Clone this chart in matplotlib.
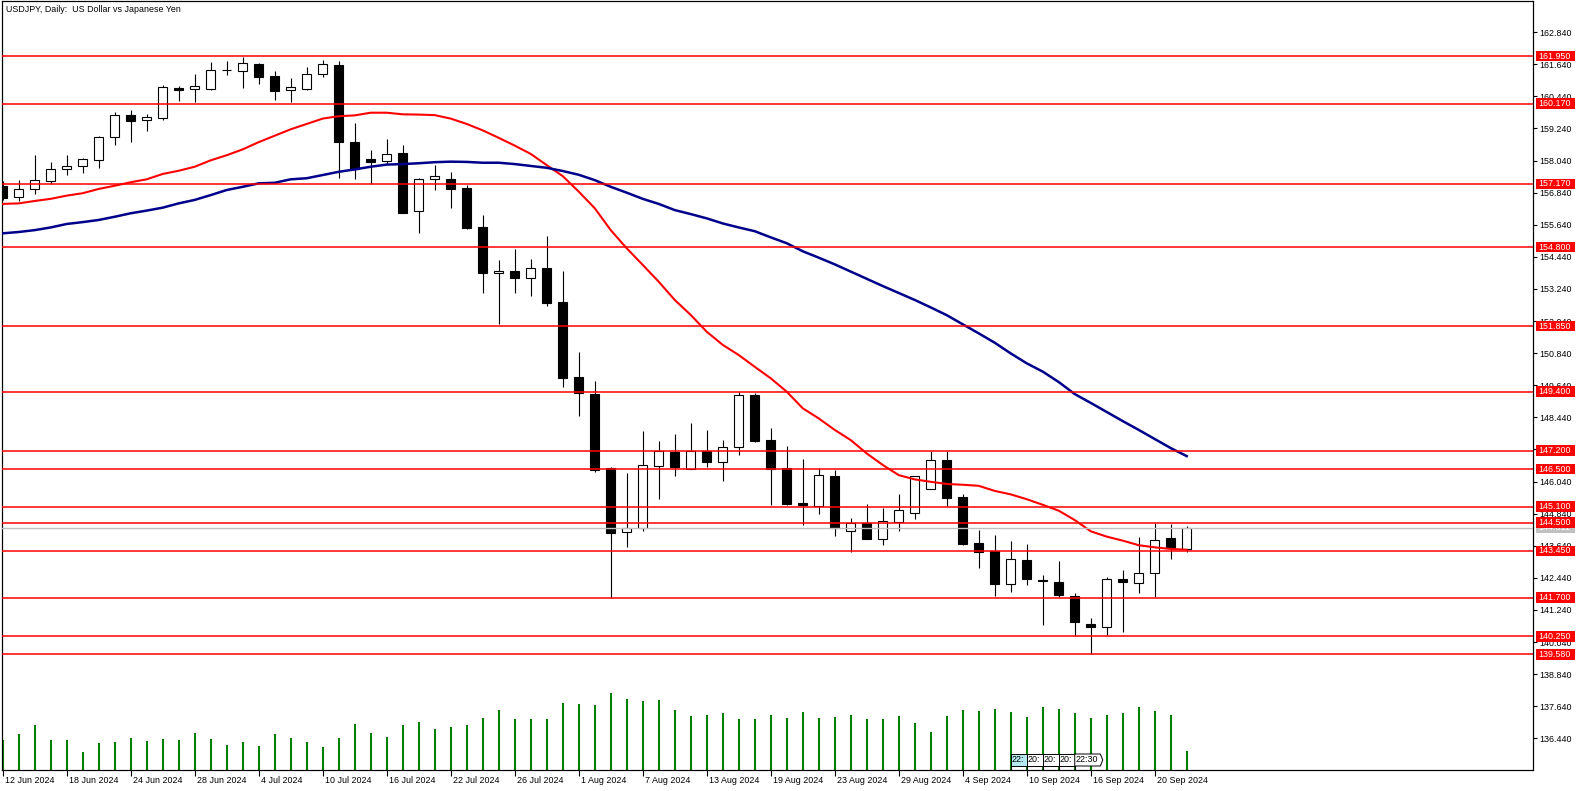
import numpy as np
import pandas as pd
import matplotlib
matplotlib.use("Agg")
import matplotlib.pyplot as plt
from matplotlib.patches import Rectangle, Polygon
from matplotlib.transforms import ScaledTranslation

# USDJPY daily candles, 12 Jun 2024 - 24 Sep 2024
dates = pd.bdate_range("2024-06-12", "2024-09-24")

opens = [157.09, 156.67, 156.97, 157.27, 157.71, 157.83, 158.05, 158.91, 159.73, 159.55,
         159.64, 160.74, 160.71, 160.71, 161.41, 161.38, 161.65, 161.20, 160.67, 160.73,
         161.27, 161.61, 158.73, 158.10, 158.01, 158.31, 156.14, 157.34, 157.34, 157.02,
         155.54, 153.82, 153.91, 153.64, 154.02, 152.74, 149.94, 149.31, 146.53, 144.14,
         144.29, 146.63, 147.13, 146.52, 147.17, 146.78, 147.32, 149.26, 147.59, 146.53,
         145.24, 145.14, 146.25, 144.18, 144.50, 143.90, 144.54, 144.87, 145.77, 146.85,
         145.46, 143.74, 143.44, 142.22, 143.09, 142.36, 142.28, 141.76, 140.70, 140.59,
         142.40, 142.23, 142.61, 143.92, 143.51]
highs = [157.28, 157.31, 158.25, 157.99, 158.25, 158.15, 158.96, 159.86, 159.93, 159.78,
         160.87, 160.83, 161.29, 161.73, 161.76, 161.92, 161.68, 161.39, 161.13, 161.54,
         161.80, 161.76, 159.45, 158.44, 158.85, 158.62, 157.38, 157.87, 157.60, 157.13,
         155.99, 154.32, 154.73, 154.36, 155.21, 153.90, 150.88, 149.81, 146.57, 146.37,
         147.93, 147.56, 147.82, 148.23, 147.97, 147.59, 149.39, 149.34, 148.04, 147.37,
         146.88, 146.55, 146.47, 144.68, 145.20, 145.05, 145.57, 146.26, 147.19, 147.19,
         145.57, 144.23, 144.04, 143.82, 143.70, 142.53, 143.07, 141.88, 140.95, 142.46,
         142.73, 143.97, 144.50, 144.45, 144.38]
lows = [156.57, 156.54, 156.79, 157.18, 157.51, 157.59, 157.77, 158.63, 158.74, 159.16,
        159.56, 160.28, 160.24, 160.69, 161.25, 160.77, 160.91, 160.31, 160.23, 160.68,
        161.18, 157.40, 157.36, 157.15, 157.91, 156.07, 155.34, 156.94, 156.28, 155.50,
        153.10, 151.94, 153.10, 152.99, 152.61, 149.58, 148.49, 146.41, 141.70, 143.61,
        144.20, 145.40, 146.26, 146.50, 146.59, 146.07, 147.03, 147.53, 145.16, 145.16,
        144.43, 144.84, 144.01, 143.42, 143.88, 143.68, 144.20, 144.65, 145.75, 145.13,
        143.67, 142.82, 141.77, 141.92, 142.18, 140.69, 141.73, 140.26, 139.59, 140.31,
        140.43, 141.88, 141.72, 143.15, 143.39]
closes = [156.65, 156.97, 157.30, 157.71, 157.84, 158.10, 158.91, 159.73, 159.53, 159.66,
          160.78, 160.69, 160.82, 161.42, 161.43, 161.68, 161.18, 160.65, 160.78, 161.28,
          161.64, 158.75, 157.71, 158.00, 158.27, 156.09, 157.34, 157.45, 156.99, 155.53,
          153.85, 153.91, 153.66, 154.02, 152.73, 149.92, 149.34, 146.49, 144.12, 144.29,
          146.66, 147.17, 146.59, 147.17, 146.78, 147.32, 149.26, 147.57, 146.51, 145.20,
          145.17, 146.27, 144.31, 144.50, 143.90, 144.55, 144.96, 146.24, 146.85, 145.43,
          143.71, 143.42, 142.22, 143.13, 142.41, 142.34, 141.81, 140.80, 140.59, 142.38,
          142.27, 142.61, 143.84, 143.57, 144.311]

# tick volume (relative units)
volumes = [30, 36, 45, 30, 30, 18, 27, 28, 32, 29,
           31, 30, 37, 31, 25, 28, 24, 36, 32, 28,
           23, 32, 46, 37, 33, 45, 48, 41, 43, 45,
           52, 60, 51, 51, 51, 67, 66, 65, 77, 71,
           69, 70, 60, 54, 55, 57, 51, 51, 55, 52,
           58, 52, 53, 55, 51, 51, 54, 47, 38, 54,
           60, 59, 61, 58, 53, 63, 61, 57, 52, 55,
           57, 63, 59, 55, 19]

# moving averages as drawn on the chart
red_ma = [156.42, 156.44, 156.53, 156.61, 156.73, 156.82, 156.98, 157.10, 157.23, 157.34,
          157.54, 157.66, 157.81, 158.05, 158.24, 158.46, 158.73, 158.97, 159.21, 159.41,
          159.61, 159.70, 159.73, 159.83, 159.83, 159.77, 159.76, 159.74, 159.61, 159.41,
          159.17, 158.89, 158.60, 158.29, 157.87, 157.46, 156.88, 156.26, 155.44, 154.76,
          154.14, 153.51, 152.83, 152.27, 151.64, 151.15, 150.77, 150.33, 149.90, 149.40,
          148.78, 148.40, 147.97, 147.59, 147.09, 146.66, 146.28, 146.12, 146.03, 145.95,
          145.92, 145.88, 145.69, 145.56, 145.38, 145.17, 144.95, 144.60, 144.18, 143.98,
          143.83, 143.66, 143.58, 143.52, 143.49]
blue_ma = [155.32, 155.37, 155.44, 155.54, 155.67, 155.74, 155.82, 155.94, 156.07, 156.17,
           156.28, 156.44, 156.57, 156.75, 156.94, 157.06, 157.19, 157.21, 157.34, 157.38,
           157.50, 157.62, 157.71, 157.81, 157.89, 157.91, 157.94, 157.98, 158.00, 157.99,
           157.96, 157.96, 157.91, 157.84, 157.77, 157.65, 157.51, 157.31, 157.06, 156.84,
           156.61, 156.42, 156.19, 156.04, 155.88, 155.69, 155.54, 155.40, 155.17, 154.95,
           154.65, 154.41, 154.16, 153.89, 153.62, 153.35, 153.09, 152.83, 152.55, 152.26,
           151.92, 151.58, 151.23, 150.83, 150.46, 150.15, 149.76, 149.31, 148.98, 148.64,
           148.30, 147.97, 147.63, 147.29, 146.99]

# horizontal support / resistance levels
levels = [161.95, 160.17, 157.17, 154.80, 151.85, 149.40, 147.20,
          146.50, 145.10, 144.50, 143.45, 141.70, 140.25, 139.58]
bid = 144.311

price_ticks = [136.44, 137.64, 138.84, 140.04, 141.24, 142.44, 143.64, 144.84,
               146.04, 147.24, 148.44, 149.64, 150.84, 152.04, 153.24, 154.44,
               155.64, 156.84, 158.04, 159.24, 160.44, 161.64, 162.84]

# time labels of the vertical-line objects at the bottom
marker_bars = [63, 64, 65, 66, 67]
marker_texts = ["22:", "20:", "20:", "20:", "22:30"]

plt.rcParams["font.family"] = ["Liberation Sans", "DejaVu Sans"]
FS = 6.4

W, H = 1586, 791
fig = plt.figure(figsize=(W / 100, H / 100), dpi=100, facecolor="white")
ax = fig.add_axes([2.3 / W, 21 / H, 1530.7 / W, 768.5 / H])
vol_ax = ax.twinx()
ax.set_zorder(vol_ax.get_zorder() + 1)   # candles above the volume axes
ax.patch.set_visible(False)

x = np.arange(len(dates))

# volume bars in the bottom of the window
vol_ax.vlines(x, 0, volumes, color="#008000", lw=1.5)
vol_ax.set_ylim(0, max(volumes) * 10)
vol_ax.set_yticks([])
vol_ax.tick_params(right=False, labelright=False)

# candles
body_w = 0.58
ax.vlines(x, lows, highs, color="black", lw=0.8, zorder=2)
for i in range(len(x)):
    o, c = opens[i], closes[i]
    face = "white" if c >= o else "black"
    ax.add_patch(Rectangle((x[i] - body_w / 2, min(o, c)), body_w, abs(c - o),
                           facecolor=face, edgecolor="black", lw=0.8, zorder=3))

# moving averages
ax.plot(x, red_ma, color="#ff0000", lw=1.5, zorder=4)
ax.plot(x, blue_ma, color="#00008b", lw=1.8, zorder=4)

# level lines + current bid line
ax.axhline(bid, color="#c0c0c0", lw=1.0, zorder=4)
for lv in levels:
    ax.axhline(lv, color="#ff0000", lw=1.1, zorder=5)

ax.set_xlim(-0.025, 95.64)
ax.set_ylim(135.255, 163.988)

# right price scale
ax.yaxis.tick_right()
ax.set_yticks(price_ticks)
ax.set_yticklabels([f"{p:.3f}" for p in price_ticks])
ax.tick_params(axis="y", direction="out", length=3, width=0.8, pad=1.5,
               labelsize=FS, colors="black")

# labels for the levels on the price scale (boxes cover the tick labels)
ytrans = ax.get_yaxis_transform()
box_h = 10.5 / 26.746
box_x0 = (1536 - 2.3) / 1530.7
box_w = 39 / 1530.7
txt_x = (1538.5 - 2.3) / 1530.7
ax.add_patch(Rectangle((box_x0, bid - box_h / 2), box_w, box_h, transform=ytrans,
                       facecolor="#c0c0c0", edgecolor="none", clip_on=False, zorder=6))
ax.text(txt_x, bid, f"{bid:.3f}", transform=ytrans, color="white", fontsize=FS,
        va="center", ha="left", clip_on=False, zorder=7)
for lv in levels:
    ax.add_patch(Rectangle((box_x0, lv - box_h / 2), box_w, box_h, transform=ytrans,
                           facecolor="#ff0000", edgecolor="none", clip_on=False, zorder=8))
    ax.text(txt_x, lv, f"{lv:.3f}", transform=ytrans, color="white", fontsize=FS,
            va="center", ha="left", clip_on=False, zorder=9)

# date scale, a label every 4 bars
tick_idx = x[::4]
ax.set_xticks(tick_idx)
ax.set_xticklabels([f"{dates[i].day} {dates[i]:%b %Y}" for i in tick_idx], ha="left")
ax.tick_params(axis="x", direction="out", length=4, width=0.8, pad=0.5,
               labelsize=FS, colors="black")
for lab in ax.get_xticklabels():
    lab.set_transform(lab.get_transform() + ScaledTranslation(2 / 100, 0, fig.dpi_scale_trans))

for sp in ax.spines.values():
    sp.set_linewidth(0.8)
    sp.set_color("black")

# vertical line time labels near the bottom
xtrans = ax.get_xaxis_transform()
y0 = (770 - 766) / 768.5
y1 = (770 - 754) / 768.5
for k, (b, t) in enumerate(zip(marker_bars, marker_texts)):
    if k < len(marker_bars) - 1:
        pts = [(b, y0), (b + 1, y0), (b + 1, y1), (b, y1)]
    else:
        pts = [(b, y0), (b + 1.6, y0), (b + 1.75, (y0 + y1) / 2), (b + 1.6, y1), (b, y1)]
    face = "#b4e8ee" if k == 0 else "white"
    ax.add_patch(Polygon(pts, closed=True, transform=xtrans, facecolor=face,
                         edgecolor="black", lw=0.7, zorder=10, clip_on=False))
    ax.plot([b, b], [0, y0], transform=xtrans, color="black", lw=0.7, zorder=10)
    ax.text(b + 0.06, (y0 + y1) / 2, t, transform=xtrans, fontsize=FS,
            va="center", ha="left", zorder=11)

# title
fig.text(6 / W, 1 - 9 / H, "USDJPY, Daily:  US Dollar vs Japanese Yen",
         fontsize=FS, va="center", ha="left")

fig.savefig("out.png", dpi=100)
